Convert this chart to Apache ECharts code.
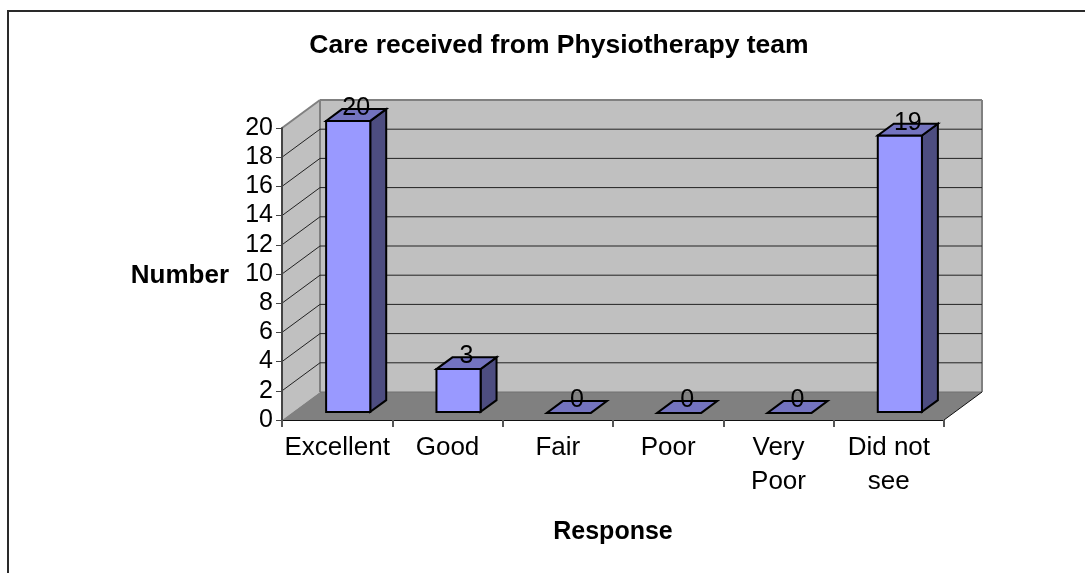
<!DOCTYPE html>
<html><head><meta charset="utf-8">
<style>html,body{margin:0;padding:0;background:#fff}#c{width:1085px;height:573px}</style>
<script src="https://cdn.jsdelivr.net/npm/echarts@6/dist/echarts.min.js"></script>
</head><body><div id="c"></div>
<script>
const chartTitle = 'Care received from Physiotherapy team';
const xName = 'Response';
const yName = 'Number';
const categories = ['Excellent', 'Good', 'Fair', 'Poor', 'Very\nPoor', 'Did not\nsee'];
const values = [20, 3, 0, 0, 0, 19];
const gridValues = [0, 2, 4, 6, 8, 10, 12, 14, 16, 18, 20];

const FONT = '"Liberation Sans", Arial, sans-serif';
const DX = 38, DY = 28;          // wall depth in pixels
const chart = echarts.init(document.getElementById('c'), null, {renderer: 'canvas'});

function wallsItem(params, api) {
  const cs = params.coordSys;
  const xl = cs.x, xr = cs.x + cs.width, yb = cs.y + cs.height, yt = cs.y;
  const poly = (pts, fill) => ({type: 'polygon', shape: {points: pts}, style: {fill: fill}});
  const line = (a, b, color, w) => ({type: 'line',
    shape: {x1: a[0], y1: a[1], x2: b[0], y2: b[1]}, style: {stroke: color, lineWidth: w}});
  return {type: 'group', children: [
    poly([[xl + DX, yt - DY], [xr + DX, yt - DY], [xr + DX, yb - DY], [xl + DX, yb - DY]], '#C0C0C0'),
    poly([[xl, yt], [xl + DX, yt - DY], [xl + DX, yb - DY], [xl, yb]], '#C0C0C0'),
    poly([[xl, yb], [xl + DX, yb - DY], [xr + DX, yb - DY], [xr, yb]], '#808080'),
    line([xl + DX, yt - DY], [xl + DX, yb - DY], '#808080', 2),
    line([xr + DX, yt - DY], [xr + DX, yb - DY], '#808080', 2),
    line([xl, yt], [xl + DX, yt - DY], '#808080', 2),
    line([xl + DX, yt - DY], [xr + DX, yt - DY], '#808080', 2),
    line([xl + DX, yb - DY], [xr + DX, yb - DY], '#707070', 1),
    line([xr, yb], [xr + DX, yb - DY], '#111', 1)
  ]};
}

function gridItem(params, api) {
  const v = api.value(0);
  if (v === 0 || v === 20) {
    return {type: 'group', children: []};
  }
  const cs = params.coordSys;
  const y = api.coord([0, v])[1];
  const xl = cs.x, xr = cs.x + cs.width;
  return {type: 'polyline',
    shape: {points: [[xl, y], [xl + DX, y - DY], [xr + DX, y - DY]]},
    style: {stroke: '#222', lineWidth: 1, fill: null}};
}

function barItem(params, api) {
  const i = api.value(0), v = api.value(1);
  const band = api.size([1, 0])[0];
  const top = api.coord([i, v]), base = api.coord([i, 0]);
  const w = band * 0.4, d = 0.29, d2 = 0.71;
  const x0 = top[0] + DX * d - w / 2, x1 = x0 + w;
  const yTop = top[1] - DY * d + 1, yBase = base[1] - DY * d;
  const ox = DX * (d2 - d), oy = DY * (d2 - d);
  const st = fill => ({fill: fill, stroke: '#000', lineWidth: 2, lineJoin: 'miter'});
  const children = [];
  if (v > 0) {
    children.push({type: 'polygon', shape: {points: [[x1, yTop], [x1 + ox, yTop - oy], [x1 + ox, yBase - oy], [x1, yBase]]}, style: st('#4D4D80')});
    children.push({type: 'polygon', shape: {points: [[x0, yTop], [x1, yTop], [x1, yBase], [x0, yBase]]}, style: st('#9999FF')});
  }
  children.push({type: 'polygon', shape: {points: [[x0, yTop], [x1, yTop], [x1 + ox, yTop - oy], [x0 + ox, yTop - oy]]}, style: st('#7373BF')});
  children.push({type: 'text', style: {
    text: String(v), x: (x0 + x1) / 2 + ox / 2, y: yTop - 12.5, align: 'center', verticalAlign: 'middle',
    fill: '#000', font: '25px ' + FONT}});
  return {type: 'group', children: children};
}

chart.setOption({
  animation: false,
  backgroundColor: '#fff',
  title: {
    text: chartTitle, left: 554, top: 27, textAlign: 'center',
    textStyle: {fontFamily: FONT, fontWeight: 'bold', fontSize: 26.5, color: '#000'}
  },
  grid: {left: 282, right: 141, top: 128, bottom: 153},
  xAxis: {
    type: 'category', data: categories, z: 5,
    name: xName, nameLocation: 'middle', nameGap: 100,
    nameTextStyle: {fontFamily: FONT, fontWeight: 'bold', fontSize: 25, color: '#000'},
    axisLine: {show: true, lineStyle: {color: '#111', width: 1}},
    axisTick: {show: true, alignWithLabel: false, length: 7, lineStyle: {color: '#555', width: 2}},
    axisLabel: {fontFamily: FONT, fontSize: 26, color: '#000', margin: 11, lineHeight: 34, interval: 0},
    splitLine: {show: false}
  },
  yAxis: {
    type: 'value', min: 0, max: 20, interval: 2, z: 5,
    name: yName, nameLocation: 'middle', nameRotate: 0, nameGap: 53,
    nameTextStyle: {fontFamily: FONT, fontWeight: 'bold', fontSize: 26, color: '#000', verticalAlign: 'top', lineHeight: 4},
    axisLine: {show: true, lineStyle: {color: '#444', width: 2}},
    axisTick: {show: true, length: 6, lineStyle: {color: '#444', width: 1}},
    axisLabel: {fontFamily: FONT, fontSize: 25, color: '#000', margin: 9},
    splitLine: {show: false}
  },
  graphic: [{
    type: 'polyline', silent: true,
    shape: {points: [[8, 573], [8, 11], [1085, 11]]},
    style: {stroke: '#2a2a2a', lineWidth: 2, fill: null}
  }],
  series: [
    {type: 'custom', z: 1, data: [0], renderItem: wallsItem, silent: true, clip: false},
    {type: 'custom', z: 2, data: gridValues.map(v => [v]), renderItem: gridItem, silent: true, clip: false,
      encode: {y: 0}},
    {type: 'custom', z: 3, data: values.map((v, i) => [i, v]), renderItem: barItem, silent: true, clip: false,
      encode: {x: 0, y: 1}}
  ]
});
</script></body></html>
